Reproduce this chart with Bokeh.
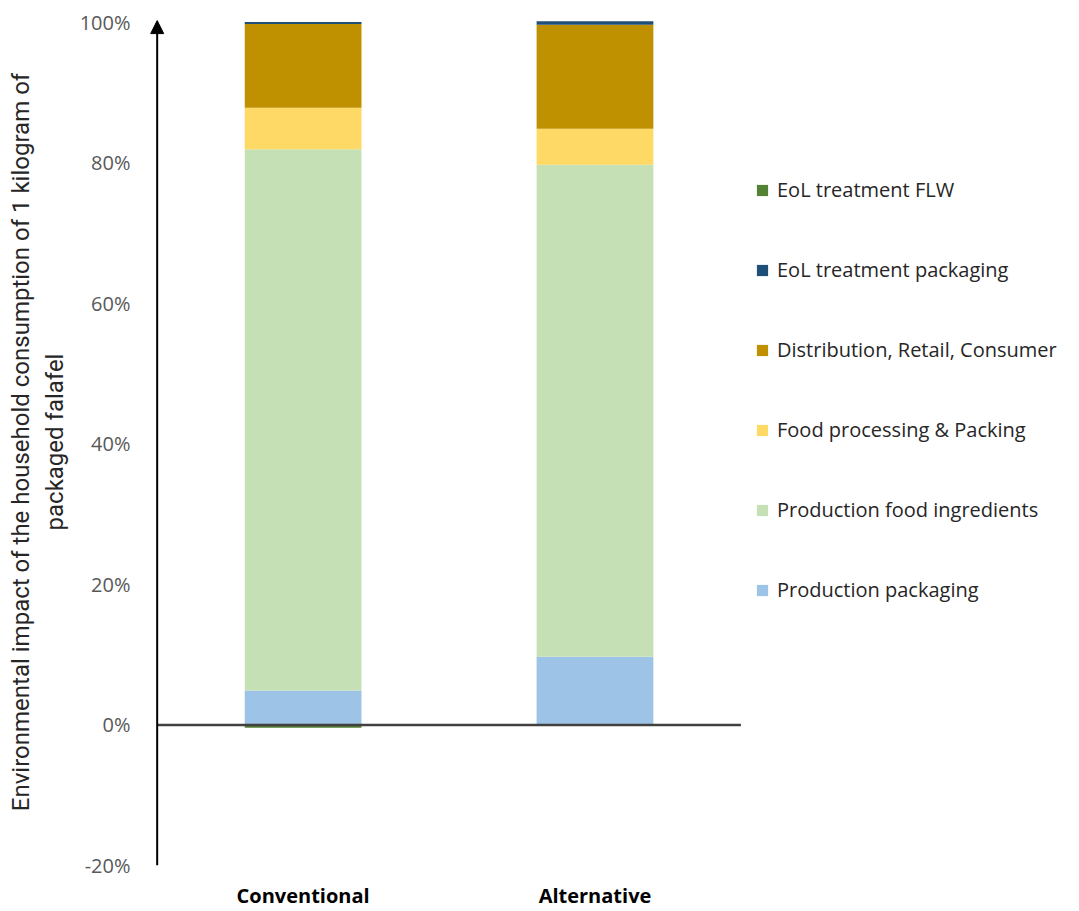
import numpy as np
from bokeh.plotting import figure
from bokeh.models import (Range1d, FixedTicker, Arrow, NormalHead, Legend,
                          LegendItem, PrintfTickFormatter)
from bokeh.embed import file_html
from bokeh.resources import INLINE

categories = ["Conventional", "Alternative"]
stages = ["Production packaging", "Production food ingredients",
          "Food processing & Packing", "Distribution, Retail, Consumer",
          "EoL treatment packaging", "EoL treatment FLW"]
production_packaging = [4.9, 9.7]
production_food_ingredients = [77.0, 70.0]
food_processing_packing = [5.9, 5.1]
distribution_retail_consumer = [11.9, 14.8]
eol_treatment_packaging = [0.3, 0.5]
eol_treatment_flw = [-0.4, -0.05]
colors = ["#9DC3E6", "#C5E0B4", "#FFD966", "#BF9000", "#1F4E79", "#548235"]
y_ticks = [-20, 0, 20, 40, 60, 80, 100]
y_title = "Environmental impact of the household consumption of 1 kilogram of\npackaged falafel"

series = [production_packaging, production_food_ingredients, food_processing_packing,
          distribution_retail_consumer, eol_treatment_packaging, eol_treatment_flw]

x = np.arange(len(categories)) + 0.5

p = figure(width=1079, height=911, output_backend="svg", toolbar_location=None,
           x_range=Range1d(-0.04, 3.16), y_range=Range1d(-20, 100.5),
           min_border_left=145, min_border_right=0, min_border_top=18,
           min_border_bottom=44)
p.outline_line_color = None
p.grid.grid_line_color = None
p.background_fill_color = "white"

pos = np.zeros(len(categories))
neg = np.zeros(len(categories))
renderers = []
for vals, col in zip(series, colors):
    v = np.array(vals, dtype=float)
    bottom = np.where(v >= 0, pos, neg + v)
    top = np.where(v >= 0, pos + v, neg)
    pos = np.where(v >= 0, pos + v, pos)
    neg = np.where(v < 0, neg + v, neg)
    r = p.vbar(x=x, width=0.4, bottom=bottom, top=top, fill_color=col, line_color=None)
    renderers.append(r)

# zero line from the axis to the end of the category area
p.segment(x0=[0], y0=[0], x1=[len(categories)], y1=[0], line_color="#404040", line_width=2.5)
# vertical axis with arrow head
p.add_layout(Arrow(x_start=0, y_start=-20, x_end=0, y_end=100.2, line_color="black",
                   line_width=2,
                   end=NormalHead(size=13, fill_color="black", line_color="black")))

# axes
p.yaxis.ticker = FixedTicker(ticks=y_ticks)
p.yaxis.formatter = PrintfTickFormatter(format="%d%%")
p.yaxis.axis_line_color = None
p.yaxis.major_tick_line_color = None
p.yaxis.minor_tick_line_color = None
p.yaxis.major_label_text_font = "Open Sans"
p.yaxis.major_label_text_font_size = "20px"
p.yaxis.major_label_text_color = "#595959"
p.yaxis.major_label_standoff = 9
p.yaxis.axis_label = y_title
p.yaxis.axis_label_text_font = "Roboto"
p.yaxis.axis_label_text_font_style = "normal"
p.yaxis.axis_label_text_font_size = "24px"
p.yaxis.axis_label_text_color = "#262626"
p.yaxis.axis_label_standoff = 8

p.xaxis.ticker = FixedTicker(ticks=list(x))
p.xaxis.major_label_overrides = {float(xx): c for xx, c in zip(x, categories)}
p.xaxis.axis_line_color = None
p.xaxis.major_tick_line_color = None
p.xaxis.minor_tick_line_color = None
p.xaxis.major_label_text_font = "Open Sans"
p.xaxis.major_label_text_font_style = "bold"
p.xaxis.major_label_text_font_size = "20px"
p.xaxis.major_label_text_color = "black"
p.xaxis.major_label_standoff = 10

items = [LegendItem(label=s, renderers=[r]) for s, r in zip(stages, renderers)][::-1]
legend = Legend(items=items, location=(610, 262), padding=0, margin=0, spacing=53,
                label_height=24, glyph_height=14, glyph_width=14, label_standoff=8,
                border_line_color=None, background_fill_alpha=0,
                label_text_font="Open Sans", label_text_font_size="20px",
                label_text_color="#262626")
p.add_layout(legend)

open("out.html", "w").write(file_html(p, INLINE))
